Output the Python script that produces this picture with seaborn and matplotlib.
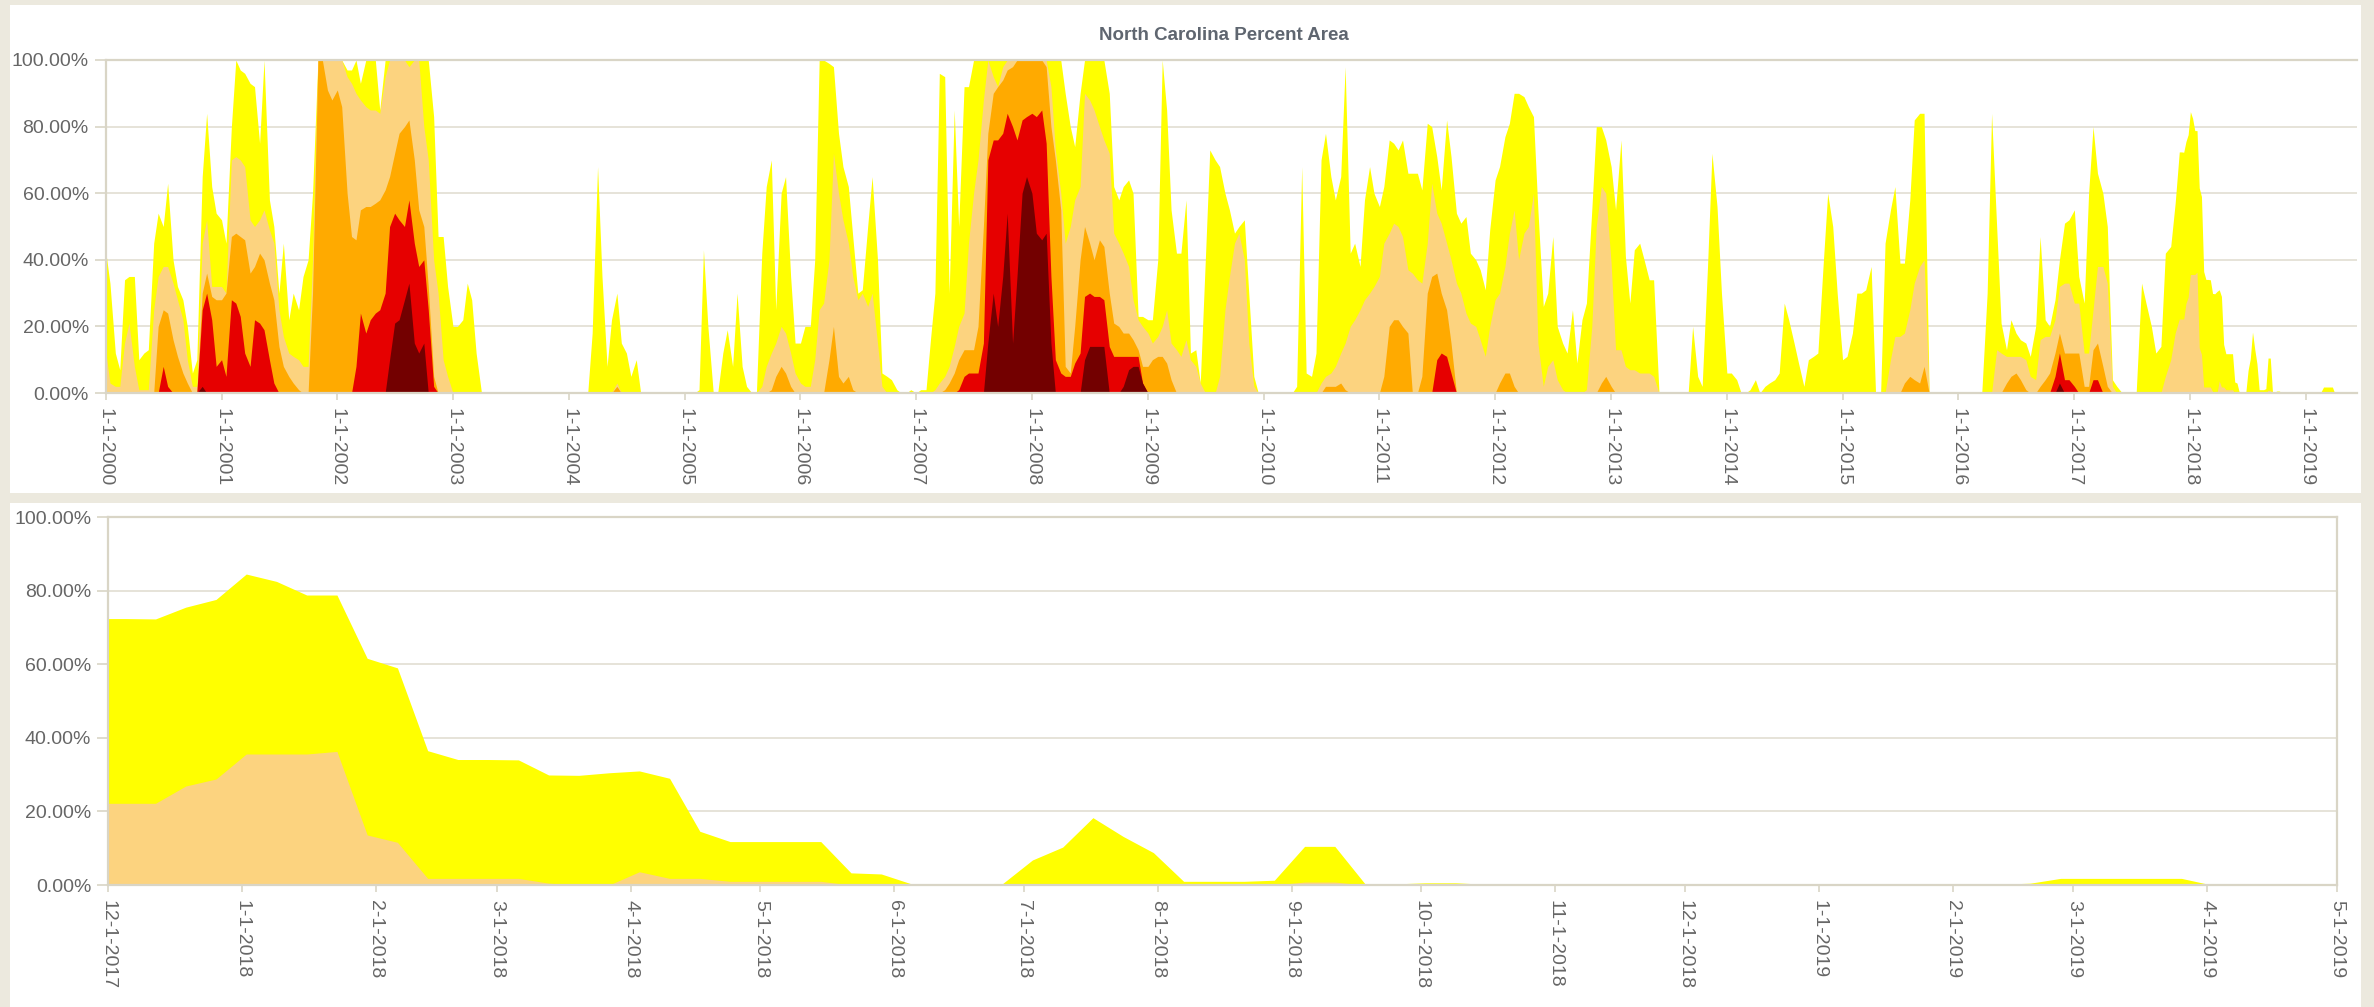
import numpy as np
import pandas as pd
import matplotlib
matplotlib.use('Agg')
import matplotlib.pyplot as plt
import matplotlib.dates as mdates
from matplotlib.patches import Rectangle
from matplotlib.ticker import FuncFormatter
import seaborn as sns

# drought classes, cumulative percent of area (D0-D4 includes everything worse)
categories = ['D0-D4', 'D1-D4', 'D2-D4', 'D3-D4', 'D4']
colors = ['#ffff00', '#fcd37f', '#ffaa00', '#e60000', '#730000']

d0 = [
    43, 33, 12, 7, 34, 35, 35, 10, 12, 13, 45, 54, 50, 63, 40, 32, 28, 20, 6, 10, 65, 84, 62, 54,  # 2000
    52, 45, 80, 100, 97, 96, 93, 92, 75, 100, 58, 50, 30, 45, 22, 30, 25, 35, 40, 60, 100, 100, 100, 100,  # 2001
    100, 100, 97, 97, 100, 93, 100, 100, 100, 85, 100, 100, 100, 100, 100, 100, 100, 100, 100, 100, 83, 47, 47, 32,  # 2002
    20, 20, 22, 33, 28, 12, 0, 0, 0, 0, 0, 0, 0, 0, 0, 0, 0, 0, 0, 0, 0, 0, 0, 0,  # 2003
    0, 0, 0, 0, 0, 18, 68, 35, 8, 22, 30, 15, 12, 5, 10, 0, 0, 0, 0, 0, 0, 0, 0, 0,  # 2004
    0, 0, 0, 1, 43, 20, 0, 0, 12, 19, 8, 30, 8, 2, 0, 0, 42, 62, 70, 25, 60, 65, 35, 15,  # 2005
    15, 20, 20, 40, 100, 100, 99, 98, 78, 68, 62, 47, 30, 31, 50, 65, 40, 6, 5, 4, 1, 0, 0, 1,  # 2006
    0, 1, 1, 16, 30, 96, 95, 30, 85, 50, 92, 92, 100, 100, 100, 100, 100, 100, 100, 100, 100, 100, 100, 100,  # 2007
    100, 100, 100, 100, 100, 100, 100, 90, 80, 74, 90, 100, 100, 100, 100, 100, 90, 62, 58, 62, 64, 60, 23, 23,  # 2008
    22, 22, 40, 100, 85, 55, 42, 42, 58, 12, 13, 3, 40, 73, 70, 68, 60, 55, 48, 50, 52, 30, 5, 0,  # 2009
    0, 0, 0, 0, 0, 0, 0, 2, 68, 6, 5, 12, 70, 78, 65, 58, 65, 98, 42, 45, 38, 58, 68, 60,  # 2010
    56, 62, 76, 75, 73, 76, 66, 66, 66, 61, 81, 80, 71, 61, 82, 71, 54, 51, 53, 42, 40, 37, 31, 49,  # 2011
    64, 68, 77, 81, 90, 90, 89, 86, 83, 55, 26, 30, 47, 20, 15, 12, 25, 9, 22, 27, 55, 80, 80, 76,  # 2012
    68, 55, 76, 41, 27, 43, 45, 40, 34, 34, 0, 0, 0, 0, 0, 0, 0, 20, 5, 2, 38, 72, 56, 30,  # 2013
    6, 6, 4, 0, 0, 1, 4, 0, 2, 3, 4, 6, 27, 22, 15, 9, 2, 10, 11, 12, 39, 60, 50, 30,  # 2014
    10, 11, 18, 30, 30, 31, 38, 0, 0, 45, 55, 62, 39, 39, 58, 82, 84, 84, 0, 0, 0, 0, 0, 0,  # 2015
    0, 0, 0, 0, 0, 0, 30, 84, 50, 21, 13, 22, 18, 16, 15, 11, 20, 47, 22, 20, 28, 40, 51, 52,  # 2016
    55, 35, 27, 60, 80, 66, 60, 50, 4, 2, 0, 0, 0, 0, 33, 27, 20, 12, 14, 42, 44, 57,  # 2017
]
d1 = [
    13, 3, 2, 2, 15, 21, 8, 1, 1, 1, 25, 35, 38, 38, 33, 28, 22, 10, 2, 2, 45, 52, 32, 32,  # 2000
    32, 30, 70, 71, 70, 68, 52, 50, 52, 55, 49, 45, 25, 17, 12, 11, 10, 8, 8, 40, 100, 100, 100, 100,  # 2001
    100, 100, 95, 93, 90, 88, 86, 85, 85, 84, 95, 100, 100, 100, 100, 98, 100, 100, 80, 70, 40, 30, 10, 5,  # 2002
    0, 0, 0, 0, 0, 0, 0, 0, 0, 0, 0, 0, 0, 0, 0, 0, 0, 0, 0, 0, 0, 0, 0, 0,  # 2003
    0, 0, 0, 0, 0, 0, 0, 0, 0, 0, 3, 0, 0, 0, 0, 0, 0, 0, 0, 0, 0, 0, 0, 0,  # 2004
    0, 0, 0, 0, 0, 0, 0, 0, 0, 0, 0, 0, 0, 0, 0, 0, 2, 8, 12, 15, 20, 18, 12, 6,  # 2005
    3, 2, 2, 10, 25, 27, 40, 72, 60, 52, 45, 35, 28, 30, 26, 30, 15, 2, 0, 0, 0, 0, 0, 0,  # 2006
    0, 0, 0, 0, 1, 3, 5, 8, 14, 20, 24, 45, 60, 70, 88, 100, 95, 92, 98, 100, 100, 100, 100, 100,  # 2007
    100, 100, 100, 100, 92, 73, 60, 45, 50, 58, 62, 90, 88, 85, 80, 76, 72, 48, 45, 42, 38, 28, 22, 20,  # 2008
    18, 15, 17, 20, 25, 15, 13, 11, 16, 10, 8, 3, 0, 0, 0, 5, 25, 35, 45, 48, 40, 15, 2, 0,  # 2009
    0, 0, 0, 0, 0, 0, 0, 0, 0, 0, 0, 0, 3, 5, 6, 8, 12, 15, 20, 22, 25, 28, 30, 32,  # 2010
    35, 45, 48, 51, 50, 47, 37, 36, 34, 33, 45, 63, 54, 51, 45, 40, 33, 30, 24, 21, 20, 16, 11, 20,  # 2011
    28, 30, 38, 48, 55, 40, 48, 50, 60, 15, 2, 8, 10, 4, 1, 0, 0, 0, 0, 1, 20, 50, 62, 60,  # 2012
    39, 13, 13, 8, 7, 7, 6, 6, 6, 5, 0, 0, 0, 0, 0, 0, 0, 0, 0, 0, 0, 0, 0, 0,  # 2013
    0, 0, 0, 0, 0, 0, 0, 0, 0, 0, 0, 0, 0, 0, 0, 0, 0, 0, 0, 0, 0, 0, 0, 0,  # 2014
    0, 0, 0, 0, 0, 0, 0, 0, 0, 0, 10, 17, 17, 18, 25, 33, 38, 40, 0, 0, 0, 0, 0, 0,  # 2015
    0, 0, 0, 0, 0, 0, 0, 0, 13, 12, 11, 11, 11, 11, 10, 5, 4, 16, 17, 17, 22, 32, 33, 33,  # 2016
    27, 27, 12, 12, 25, 38, 38, 33, 2, 0, 0, 0, 0, 0, 0, 0, 0, 0, 0, 5, 10, 18,  # 2017
]
d2 = [
    0, 0, 0, 0, 0, 0, 0, 0, 0, 0, 0, 20, 25, 24, 16, 11, 6, 3, 0, 0, 30, 36, 29, 28,  # 2000
    28, 30, 47, 48, 47, 46, 36, 38, 42, 40, 33, 28, 14, 8, 5, 3, 1, 0, 0, 30, 100, 100, 91, 88,  # 2001
    91, 86, 60, 47, 46, 55, 56, 56, 57, 58, 61, 65, 72, 78, 80, 82, 70, 55, 50, 32, 5, 0, 0, 0,  # 2002
    0, 0, 0, 0, 0, 0, 0, 0, 0, 0, 0, 0, 0, 0, 0, 0, 0, 0, 0, 0, 0, 0, 0, 0,  # 2003
    0, 0, 0, 0, 0, 0, 0, 0, 0, 0, 2, 0, 0, 0, 0, 0, 0, 0, 0, 0, 0, 0, 0, 0,  # 2004
    0, 0, 0, 0, 0, 0, 0, 0, 0, 0, 0, 0, 0, 0, 0, 0, 0, 0, 1, 5, 8, 6, 2, 0,  # 2005
    0, 0, 0, 0, 0, 0, 10, 20, 5, 3, 5, 1, 0, 0, 0, 0, 0, 0, 0, 0, 0, 0, 0, 0,  # 2006
    0, 0, 0, 0, 0, 0, 1, 3, 6, 10, 13, 13, 13, 20, 50, 78, 90, 92, 94, 97, 98, 100, 100, 100,  # 2007
    100, 100, 100, 98, 80, 70, 55, 8, 6, 20, 40, 50, 45, 40, 46, 44, 30, 21, 20, 18, 18, 16, 13, 8,  # 2008
    8, 10, 11, 11, 9, 4, 0, 0, 0, 0, 0, 0, 0, 0, 0, 0, 0, 0, 0, 0, 0, 0, 0, 0,  # 2009
    0, 0, 0, 0, 0, 0, 0, 0, 0, 0, 0, 0, 0, 2, 2, 2, 3, 1, 0, 0, 0, 0, 0, 0,  # 2010
    0, 5, 20, 22, 22, 20, 18, 0, 0, 5, 30, 35, 36, 30, 25, 15, 0, 0, 0, 0, 0, 0, 0, 0,  # 2011
    0, 3, 6, 6, 2, 0, 0, 0, 0, 0, 0, 0, 0, 0, 0, 0, 0, 0, 0, 0, 0, 0, 3, 5,  # 2012
    2, 0, 0, 0, 0, 0, 0, 0, 0, 0, 0, 0, 0, 0, 0, 0, 0, 0, 0, 0, 0, 0, 0, 0,  # 2013
    0, 0, 0, 0, 0, 0, 0, 0, 0, 0, 0, 0, 0, 0, 0, 0, 0, 0, 0, 0, 0, 0, 0, 0,  # 2014
    0, 0, 0, 0, 0, 0, 0, 0, 0, 0, 0, 0, 0, 3, 5, 4, 3, 8, 0, 0, 0, 0, 0, 0,  # 2015
    0, 0, 0, 0, 0, 0, 0, 0, 0, 0, 3, 5, 6, 4, 1, 0, 0, 2, 4, 6, 12, 18, 12, 12,  # 2016
    12, 12, 2, 2, 13, 15, 8, 2, 0, 0, 0, 0, 0, 0, 0, 0, 0, 0, 0, 0, 0, 0,  # 2017
]
d3 = [
    0, 0, 0, 0, 0, 0, 0, 0, 0, 0, 0, 0, 8, 2, 0, 0, 0, 0, 0, 0, 25, 30, 22, 8,  # 2000
    10, 5, 28, 27, 23, 12, 8, 22, 21, 19, 10, 3, 0, 0, 0, 0, 0, 0, 0, 0, 0, 0, 0, 0,  # 2001
    0, 0, 0, 0, 8, 24, 18, 22, 24, 25, 30, 50, 54, 52, 50, 58, 45, 38, 40, 25, 2, 0, 0, 0,  # 2002
    0, 0, 0, 0, 0, 0, 0, 0, 0, 0, 0, 0, 0, 0, 0, 0, 0, 0, 0, 0, 0, 0, 0, 0,  # 2003
    0, 0, 0, 0, 0, 0, 0, 0, 0, 0, 0, 0, 0, 0, 0, 0, 0, 0, 0, 0, 0, 0, 0, 0,  # 2004
    0, 0, 0, 0, 0, 0, 0, 0, 0, 0, 0, 0, 0, 0, 0, 0, 0, 0, 0, 0, 0, 0, 0, 0,  # 2005
    0, 0, 0, 0, 0, 0, 0, 0, 0, 0, 0, 0, 0, 0, 0, 0, 0, 0, 0, 0, 0, 0, 0, 0,  # 2006
    0, 0, 0, 0, 0, 0, 0, 0, 0, 1, 5, 6, 6, 6, 15, 70, 76, 76, 78, 84, 80, 76, 82, 83,  # 2007
    84, 83, 85, 75, 35, 10, 6, 5, 5, 9, 12, 29, 30, 29, 29, 28, 14, 11, 11, 11, 11, 11, 11, 3,  # 2008
    0, 0, 0, 0, 0, 0, 0, 0, 0, 0, 0, 0, 0, 0, 0, 0, 0, 0, 0, 0, 0, 0, 0, 0,  # 2009
    0, 0, 0, 0, 0, 0, 0, 0, 0, 0, 0, 0, 0, 0, 0, 0, 0, 0, 0, 0, 0, 0, 0, 0,  # 2010
    0, 0, 0, 0, 0, 0, 0, 0, 0, 0, 0, 0, 10, 12, 11, 6, 0, 0, 0, 0, 0, 0, 0, 0,  # 2011
    0, 0, 0, 0, 0, 0, 0, 0, 0, 0, 0, 0, 0, 0, 0, 0, 0, 0, 0, 0, 0, 0, 0, 0,  # 2012
    0, 0, 0, 0, 0, 0, 0, 0, 0, 0, 0, 0, 0, 0, 0, 0, 0, 0, 0, 0, 0, 0, 0, 0,  # 2013
    0, 0, 0, 0, 0, 0, 0, 0, 0, 0, 0, 0, 0, 0, 0, 0, 0, 0, 0, 0, 0, 0, 0, 0,  # 2014
    0, 0, 0, 0, 0, 0, 0, 0, 0, 0, 0, 0, 0, 0, 0, 0, 0, 0, 0, 0, 0, 0, 0, 0,  # 2015
    0, 0, 0, 0, 0, 0, 0, 0, 0, 0, 0, 0, 0, 0, 0, 0, 0, 0, 0, 0, 5, 12, 4, 4,  # 2016
    2, 0, 0, 0, 4, 4, 0, 0, 0, 0, 0, 0, 0, 0, 0, 0, 0, 0, 0, 0, 0, 0,  # 2017
]
d4 = [
    0, 0, 0, 0, 0, 0, 0, 0, 0, 0, 0, 0, 0, 0, 0, 0, 0, 0, 0, 0, 2, 0, 0, 0,  # 2000
    0, 0, 0, 0, 0, 0, 0, 0, 0, 0, 0, 0, 0, 0, 0, 0, 0, 0, 0, 0, 0, 0, 0, 0,  # 2001
    0, 0, 0, 0, 0, 0, 0, 0, 0, 0, 0, 10, 21, 22, 28, 33, 15, 12, 15, 0, 0, 0, 0, 0,  # 2002
    0, 0, 0, 0, 0, 0, 0, 0, 0, 0, 0, 0, 0, 0, 0, 0, 0, 0, 0, 0, 0, 0, 0, 0,  # 2003
    0, 0, 0, 0, 0, 0, 0, 0, 0, 0, 0, 0, 0, 0, 0, 0, 0, 0, 0, 0, 0, 0, 0, 0,  # 2004
    0, 0, 0, 0, 0, 0, 0, 0, 0, 0, 0, 0, 0, 0, 0, 0, 0, 0, 0, 0, 0, 0, 0, 0,  # 2005
    0, 0, 0, 0, 0, 0, 0, 0, 0, 0, 0, 0, 0, 0, 0, 0, 0, 0, 0, 0, 0, 0, 0, 0,  # 2006
    0, 0, 0, 0, 0, 0, 0, 0, 0, 0, 0, 0, 0, 0, 0, 15, 30, 20, 35, 54, 15, 35, 60, 65,  # 2007
    60, 48, 46, 48, 15, 0, 0, 0, 0, 0, 0, 10, 14, 14, 14, 14, 0, 0, 0, 2, 7, 8, 8, 3,  # 2008
    0, 0, 0, 0, 0, 0, 0, 0, 0, 0, 0, 0, 0, 0, 0, 0, 0, 0, 0, 0, 0, 0, 0, 0,  # 2009
    0, 0, 0, 0, 0, 0, 0, 0, 0, 0, 0, 0, 0, 0, 0, 0, 0, 0, 0, 0, 0, 0, 0, 0,  # 2010
    0, 0, 0, 0, 0, 0, 0, 0, 0, 0, 0, 0, 0, 0, 0, 0, 0, 0, 0, 0, 0, 0, 0, 0,  # 2011
    0, 0, 0, 0, 0, 0, 0, 0, 0, 0, 0, 0, 0, 0, 0, 0, 0, 0, 0, 0, 0, 0, 0, 0,  # 2012
    0, 0, 0, 0, 0, 0, 0, 0, 0, 0, 0, 0, 0, 0, 0, 0, 0, 0, 0, 0, 0, 0, 0, 0,  # 2013
    0, 0, 0, 0, 0, 0, 0, 0, 0, 0, 0, 0, 0, 0, 0, 0, 0, 0, 0, 0, 0, 0, 0, 0,  # 2014
    0, 0, 0, 0, 0, 0, 0, 0, 0, 0, 0, 0, 0, 0, 0, 0, 0, 0, 0, 0, 0, 0, 0, 0,  # 2015
    0, 0, 0, 0, 0, 0, 0, 0, 0, 0, 0, 0, 0, 0, 0, 0, 0, 0, 0, 0, 0, 3, 0, 0,  # 2016
    0, 0, 0, 0, 0, 0, 0, 0, 0, 0, 0, 0, 0, 0, 0, 0, 0, 0, 0, 0, 0, 0,  # 2017
]

# weekly maps (tuesdays) 11-28-2017 .. 4-30-2019, shown in the lower chart
recent_d0 = [
    72.4, 72.4, 72.3, 75.5, 77.6, 84.5, 82.5, 78.8, 78.8, 61.6,
    59.0, 36.5, 34.1, 34.1, 34.0, 29.9, 29.8, 30.5, 31.0, 29.0,
    14.6, 11.8, 11.8, 11.8, 11.8, 3.3, 3.0, 0.3, 0.3, 0.3,
    0.3, 6.8, 10.3, 18.3, 13.2, 8.8, 1.0, 1.0, 1.0, 1.3,
    10.5, 10.5, 0.3, 0.3, 0.6, 0.6, 0.2, 0, 0, 0,
    0, 0, 0, 0, 0, 0, 0, 0, 0, 0,
    0, 0, 0, 0.2, 0.5, 1.8, 1.8, 1.8, 1.8, 1.8,
    0, 0, 0, 0, 0,
]
recent_d1 = [
    22.2, 22.2, 22.2, 26.9, 28.8, 35.6, 35.6, 35.6, 36.3, 13.6,
    11.6, 1.8, 1.8, 1.8, 1.8, 0.5, 0, 0, 3.6, 1.8,
    1.8, 1.0, 1.0, 1.0, 1.0, 0, 0, 0, 0, 0,
    0, 0, 0, 0, 0, 0, 0, 0, 0, 0,
    0.8, 0.8, 0, 0, 0, 0, 0, 0, 0, 0,
    0, 0, 0, 0, 0, 0, 0, 0, 0, 0,
    0, 0, 0, 0, 0, 0, 0, 0, 0, 0,
    0, 0, 0, 0, 0,
]
# no D2 or worse anywhere in the weekly window
recent_d2 = np.zeros(len(recent_d0))

half_month = pd.to_datetime([f'{y}-{m:02d}-{d:02d}' for y in range(2000, 2018)
                             for m in range(1, 13) for d in (1, 15)])[:len(d0)]
weekly = pd.date_range('2017-11-28', periods=len(recent_d0), freq='7D')

bg = '#ece9de'
grid_col = '#e4e1d5'
line_col = '#d9d5c6'
text_col = '#666666'

sns.set_theme(style='white')
plt.rcParams['font.family'] = ['Liberation Sans', 'DejaVu Sans']

fig = plt.figure(figsize=(23.74, 10.07), dpi=100, facecolor=bg)
# white panels on the beige page
fig.patches.append(Rectangle((10 / 2374, 1 - 493 / 1007), 2351 / 2374, 488 / 1007,
                             transform=fig.transFigure, facecolor='white', edgecolor='none', zorder=-5))
fig.patches.append(Rectangle((10 / 2374, 0), 2351 / 2374, 504 / 1007,
                             transform=fig.transFigure, facecolor='white', edgecolor='none', zorder=-5))

ax_top = fig.add_axes([105.5 / 2374, 1 - 393 / 1007, 2251 / 2374, 333 / 1007])
ax_bot = fig.add_axes([108 / 2374, 1 - 885 / 1007, 2229 / 2374, 368 / 1007])


def draw_areas(ax, dates, levels):
    upper = None
    for vals, col in zip(levels, colors):
        vals = np.asarray(vals, dtype=float)
        if upper is not None:
            vals = np.minimum(vals, upper)  # each class sits inside the one above
        upper = vals
        df = pd.DataFrame({'date': dates, 'pct': vals})
        sns.lineplot(data=df, x='date', y='pct', ax=ax, color=col, linewidth=0)
        ax.fill_between(df['date'], 0, df['pct'], color=col, linewidth=0)
    ax.set_xlabel('')
    ax.set_ylabel('')


def fmt_date(v, pos):
    d = mdates.num2date(v)
    return f'{d.month}-{d.day}-{d.year}'


def style(ax):
    ax.set_facecolor('white')
    ax.set_ylim(0, 100)
    ax.set_yticks(range(0, 101, 20))
    ax.yaxis.set_major_formatter(FuncFormatter(lambda v, p: f'{v:.2f}%'))
    ax.xaxis.set_major_formatter(FuncFormatter(fmt_date))
    ax.grid(axis='y', color=grid_col, linewidth=1.3)
    ax.grid(axis='x', visible=False)
    ax.set_axisbelow(True)
    for s in ax.spines.values():
        s.set_color(line_col)
        s.set_linewidth(1.6)
    ax.tick_params(axis='x', bottom=True, labelrotation=-90, length=5, width=1.2,
                   color=line_col, labelcolor=text_col, labelsize=14, pad=6)
    ax.tick_params(axis='y', left=True, length=8, width=1.2,
                   color=line_col, labelcolor=text_col, labelsize=14, pad=4)


# top: the whole record
top_dates = half_month.append(weekly)
draw_areas(ax_top, top_dates, [
    np.concatenate([d0, recent_d0]),
    np.concatenate([d1, recent_d1]),
    np.concatenate([d2, recent_d2]),
    np.concatenate([d3, recent_d2]),
    np.concatenate([d4, recent_d2]),
])
style(ax_top)
ax_top.set_xlim(pd.Timestamp('2000-01-01'), pd.Timestamp('2019-06-10'))
ax_top.xaxis.set_major_locator(mdates.YearLocator())
ax_top.spines['right'].set_visible(False)

# bottom: the last months, weekly
draw_areas(ax_bot, weekly, [recent_d0, recent_d1])
style(ax_bot)
ax_bot.set_xlim(pd.Timestamp('2017-12-01'), pd.Timestamp('2019-05-01'))
ax_bot.xaxis.set_major_locator(mdates.MonthLocator())

fig.text(1224 / 2374, 1 - 36 / 1007, 'North Carolina Percent Area', ha='center', va='center',
         fontsize=13.5, fontweight='bold', color='#5f6670')

fig.savefig('out.png', dpi=100, facecolor=bg)
